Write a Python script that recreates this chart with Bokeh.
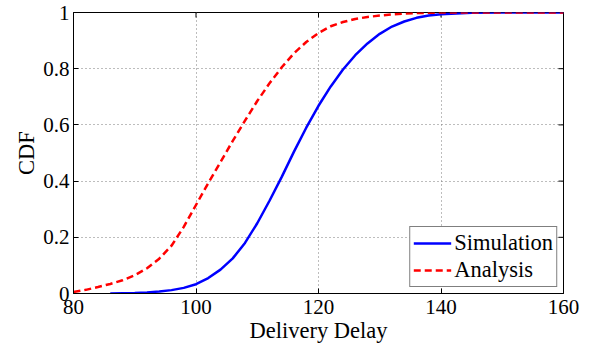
import math
from bokeh.plotting import figure
from bokeh.models import FixedTicker, Legend, LegendItem, Range1d
from bokeh.embed import file_html
from bokeh.resources import INLINE

# ---- data ----
delay_sim = [86, 88, 90, 92, 94, 96, 98, 100, 102, 104, 106, 108, 110, 112, 114,
             116, 118, 120, 122, 124, 126, 128, 130, 132, 134, 136, 138, 140, 145, 150, 160]
cdf_sim = [0.0, 0.001, 0.002, 0.004, 0.007, 0.012, 0.02, 0.033, 0.055, 0.085, 0.125,
           0.18, 0.25, 0.33, 0.415, 0.505, 0.59, 0.668, 0.737, 0.797, 0.848, 0.89, 0.924,
           0.95, 0.968, 0.981, 0.989, 0.994, 0.999, 1.0, 1.0]

delay_ana = [80, 82, 84, 86, 88, 90, 92, 94, 96, 98, 100, 102, 104, 106, 108, 110,
             112, 114, 116, 118, 120, 122, 124, 126, 128, 130, 132, 134, 136, 140, 160]
cdf_ana = [0.005, 0.013, 0.023, 0.034, 0.047, 0.065, 0.09, 0.124, 0.17, 0.237, 0.315,
           0.393, 0.468, 0.543, 0.615, 0.685, 0.748, 0.805, 0.855, 0.895, 0.927, 0.951,
           0.966, 0.977, 0.984, 0.989, 0.993, 0.996, 0.998, 1.0, 1.0]

x_ticks = [80, 100, 120, 140, 160]
y_ticks = [0, 0.2, 0.4, 0.6, 0.8, 1]
y_tick_labels = {0: "0", 0.2: "0.2", 0.4: "0.4", 0.6: "0.6", 0.8: "0.8", 1: "1"}
x_label = "Delivery Delay"
y_label = "CDF"
series_names = ["Simulation", "Analysis"]

X_MIN, X_MAX = x_ticks[0], x_ticks[-1]
Y_MIN, Y_MAX = y_ticks[0], y_ticks[-1]

FONT = "Liberation Serif"
FS_TICK = "21px"
FS = "22.5px"

p = figure(width=591, height=349, output_backend="svg", toolbar_location=None,
           x_range=Range1d(X_MIN, X_MAX), y_range=Range1d(Y_MIN, Y_MAX),
           min_border_left=73, min_border_right=28, min_border_top=12,
           min_border_bottom=56, background_fill_color="white",
           border_fill_color="white")
p.outline_line_color = "black"
p.outline_line_width = 1

for g in (p.xgrid[0], p.ygrid[0]):
    g.grid_line_color = "#7a7a7a"
    g.grid_line_dash = "1 3"
    g.grid_line_width = 1
p.xgrid[0].ticker = FixedTicker(ticks=x_ticks)
p.ygrid[0].ticker = FixedTicker(ticks=y_ticks)

# inward tick marks on the top and right edges (MATLAB box style)
p.scatter(x_ticks, [Y_MAX] * len(x_ticks), marker="dash", size=10,
          angle=math.pi / 2, line_color="black", line_width=1)
p.scatter([X_MAX] * len(y_ticks), y_ticks, marker="dash", size=10,
          line_color="black", line_width=1)

r_sim = p.line(delay_sim, cdf_sim, line_color="#0000ff", line_width=2.5)
r_ana = p.line(delay_ana, cdf_ana, line_color="#ff0000", line_width=2.5,
               line_dash="7 4")

def style_axis(ax):
    ax.axis_line_color = "black"
    ax.axis_line_width = 1
    ax.major_tick_in = 5
    ax.major_tick_out = 0
    ax.major_tick_line_color = "black"
    ax.minor_tick_line_color = None
    ax.major_label_text_font = FONT
    ax.major_label_text_font_size = FS_TICK
    ax.major_label_text_color = "black"
    ax.axis_label_text_font = FONT
    ax.axis_label_text_font_size = FS
    ax.axis_label_text_font_style = "normal"
    ax.axis_label_text_color = "black"

xa = p.xaxis[0]
xa.ticker = FixedTicker(ticks=x_ticks)
xa.axis_label = x_label
style_axis(xa)
xa.major_label_standoff = 6
xa.axis_label_standoff = 1

ya = p.yaxis[0]
ya.ticker = FixedTicker(ticks=y_ticks)
ya.major_label_overrides = y_tick_labels
ya.axis_label = y_label
style_axis(ya)
ya.major_label_standoff = 4
ya.axis_label_standoff = 1

legend = Legend(items=[LegendItem(label=series_names[0], renderers=[r_sim]),
                       LegendItem(label=series_names[1], renderers=[r_ana])],
                location="bottom_right")
legend.label_text_font = FONT
legend.label_text_font_size = FS
legend.label_text_color = "black"
legend.border_line_color = "black"
legend.border_line_width = 1
legend.background_fill_color = "white"
legend.background_fill_alpha = 1
legend.glyph_width = 38
legend.glyph_height = 24
legend.label_height = 24
legend.label_standoff = 3
legend.padding = 3
legend.spacing = 1
legend.margin = 6
p.add_layout(legend, "center")

open("out.html", "w").write(file_html(p, INLINE))
